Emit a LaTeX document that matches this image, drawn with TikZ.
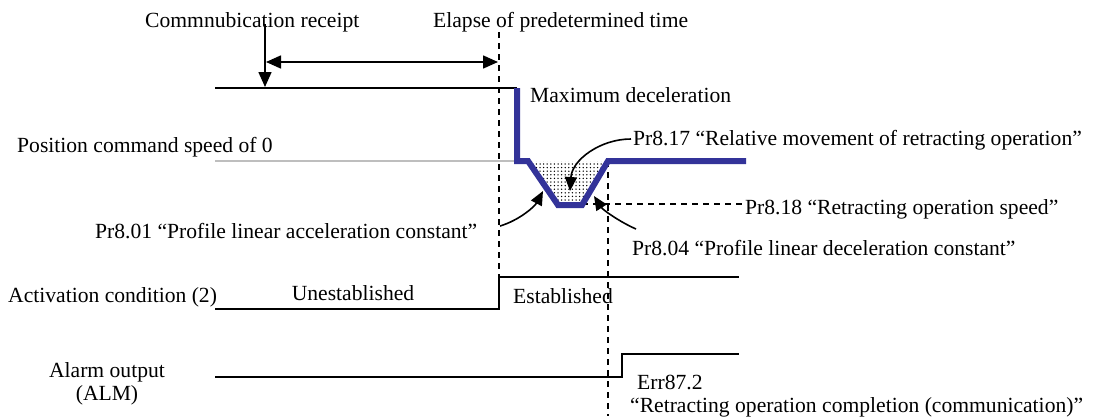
\documentclass[tikz,border=0pt]{standalone}
\usepackage{fontspec}
\setmainfont{Liberation Serif}
\usetikzlibrary{arrows.meta,patterns.meta}
\definecolor{bluel}{RGB}{51,51,153}
\definecolor{grayl}{RGB}{190,190,190}
\begin{document}
\begin{tikzpicture}[x=1pt,y=-1pt,
  lbl/.style={inner sep=0pt, anchor=base west, font=\fontsize{21.6}{25}\selectfont},
  lblc/.style={inner sep=0pt, anchor=base, font=\fontsize{21.6}{25}\selectfont},
  sig/.style={line width=1.6pt},
  dsh/.style={line width=1.3pt, dash pattern=on 6pt off 5pt},
  tri/.style={line width=1.6pt,-{Triangle[length=15pt,width=13pt]}},
  dtri/.style={line width=1.6pt,{Triangle[length=15pt,width=13pt]}-{Triangle[length=15pt,width=13pt]}},
  curv/.style={line width=1.6pt,-{Triangle[length=14pt,width=12pt]}},
  blueln/.style={line width=6pt, draw=bluel, line join=miter}]
\useasboundingbox (0,0) rectangle (1096,416);

% labels
\node[lbl] (comm) at (145,27) {Commnubication receipt};
\node[lbl] (elap) at (433,27) {Elapse of predetermined time};
\node[lbl] (maxd) at (530,102) {Maximum deceleration};
\node[lbl] (pos0) at (17,152) {Position command speed of 0};
\node[lbl] (p817) at (633,145) {Pr8.17 “Relative movement of retracting operation”};
\node[lbl] (p818) at (745,214) {Pr8.18 “Retracting operation speed”};
\node[lbl] (p801) at (95,238) {Pr8.01 “Profile linear acceleration constant”};
\node[lbl] (p804) at (632,255) {Pr8.04 “Profile linear deceleration constant”};
\node[lbl] (act) at (8,302) {Activation condition (2)};
\node[lblc] (unest) at (353,300) {Unestablished};
\node[lbl] (est) at (513,303) {Established};
\node[lblc] (alm1) at (107,377) {Alarm output};
\node[lblc] (alm2) at (107,400) {(ALM)};
\node[lbl] (err) at (637,389) {Err87.2};
\node[lbl] (errt) at (630,412) {“Retracting operation completion (communication)”};

% dashed guide lines
\coordinate (d1t) at (499,32);
\coordinate (d1b) at (499,277);
\draw[dsh] (d1t) -- (d1b);
\coordinate (d2t) at (608,161);
\coordinate (d2b) at (608,416);
\draw[dsh] (d2t) -- (d2b);
\coordinate (d3l) at (582,204);
\coordinate (d3r) at (743,204);
\draw[dsh] (d3l) -- (d3r);

% communication receipt arrow
\coordinate (ca) at (265,24);
\coordinate (cb) at (265,87);
\draw[tri] (ca) -- (cb);
\coordinate (ha) at (266,62);
\coordinate (hb) at (498,62);
\draw[dtri] (ha) -- (hb);

% position command speed
\draw[sig] (215,88) -- (517,88);
\draw[line width=1.6pt, grayl] (215,161) -- (528,161);
\coordinate (f1) at (528,161);
\coordinate (f2) at (558,205);
\coordinate (f3) at (582,205);
\coordinate (f4) at (608,161);
\fill[pattern={Dots[radius=0.75pt,distance=3.6pt]}] (f1) -- (f2) -- (f3) -- (f4) -- cycle;
\draw[blueln] (517,88) -- (517,161) -- (f1) -- (f2) -- (f3) -- (f4) -- (746,161);

% curved arrows
\coordinate (a17) at (631,139);
\coordinate (t17) at (570,191);
\draw[curv] (a17) .. controls (600,139) and (572,160) .. (t17);
\coordinate (a01) at (500,226);
\coordinate (t01) at (543,191);
\draw[curv] (a01) .. controls (520,220) and (535,206) .. (t01);
\coordinate (a04) at (636,229);
\coordinate (t04) at (594,196);
\draw[curv] (a04) .. controls (620,222) and (603,210) .. (t04);

% activation condition
\draw[sig] (215,309) -- (499,309) -- (499,277) -- (739,277);
% alarm output
\draw[sig] (215,377) -- (622,377) -- (622,354) -- (739,354);
\end{tikzpicture}
\end{document}
